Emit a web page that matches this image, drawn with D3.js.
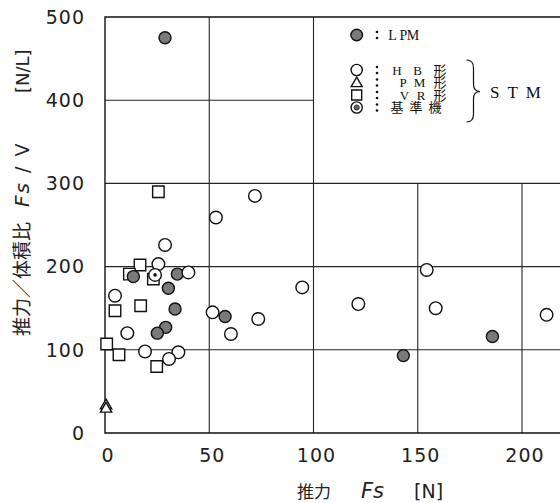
<!DOCTYPE html>
<html>
<head>
<meta charset="utf-8">
<script src="https://cdn.jsdelivr.net/npm/d3@7"></script>
<style>
  body { margin: 0; background: #fff; }
  svg { display: block; }
</style>
</head>
<body>
<svg id="chart" width="560" height="503"></svg>
<script>
(function () {
    'use strict';

    // values
    var lpmX = [28.8, 13.6, 34.7, 30.4, 33.6, 29.1, 25.1, 57.6, 143.1, 185.8];
    var lpmY = [475, 188, 191, 174, 149, 127, 120, 140, 93, 116];

    var hbX = [28.8, 25.6, 4.8, 10.7, 19.2, 35.2, 30.7, 71.9, 53.2, 94.6, 121.5, 51.6, 73.5, 60.4, 154.3, 158.6, 211.8];
    var hbY = [226, 203, 165, 120, 98, 97, 89, 285, 259, 175, 155, 145, 137, 119, 196, 150, 142];
    var hbTopX = [40];
    var hbTopY = [193];

    var pmX = [0.5, 0.5];
    var pmY = [33, 29];

    var vrX = [25.6, 16.8, 11.7, 23.2, 4.8, 17.1, 0.8, 6.7, 24.8];
    var vrY = [290, 202, 191, 185, 147, 153, 107, 94, 80];

    var refX = [24];
    var refY = [190];

    var xTicks = [0, 50, 100, 150, 200];
    var yTicks = [0, 100, 200, 300, 400, 500];

    var legendLabels = ["L P M", "H B 形", "P M 形", "V R 形", "基準機"];

    var svg = d3.select("#chart"),
        width = +svg.attr("width");

    var x = d3.scaleLinear().domain([0, 250]).range([105, 105 + 250 * 2.085]);
    var y = d3.scaleLinear().domain([0, 500]).range([433, 17]);

    var zip = function (xs, ys) {
        return xs.map(function (v, i) { return [v, ys[i]]; });
    };

    // grid (no lines inside the legend area, top right)
    var grid = svg.append("g").attr("stroke", "#262626").attr("stroke-width", 1.1);
    grid.selectAll("line.v")
        .data(xTicks.slice(1))
        .enter()
        .append("line")
        .attr("x1", function (d) { return x(d); })
        .attr("x2", function (d) { return x(d); })
        .attr("y1", y(0))
        .attr("y2", function (d) { return d > 100 ? y(300) : y(500); });
    grid.selectAll("line.h")
        .data(yTicks.slice(1, -1))
        .enter()
        .append("line")
        .attr("x1", x(0))
        .attr("x2", function (d) { return d > 300 ? x(100) : width; })
        .attr("y1", function (d) { return y(d); })
        .attr("y2", function (d) { return y(d); });

    // frame
    svg.append("path")
        .attr("d", "M" + width + "," + y(500) + "H" + x(0) + "V" + y(0) + "H" + width)
        .attr("fill", "none")
        .attr("stroke", "#111")
        .attr("stroke-width", 1.4);

    // tick labels
    var tickFont = "'DejaVu Sans', sans-serif";
    svg.selectAll("text.ytick")
        .data(yTicks)
        .enter()
        .append("text")
        .attr("x", 85)
        .attr("y", function (d) { return y(d); })
        .attr("dy", "0.36em")
        .attr("text-anchor", "end")
        .style("font-family", tickFont)
        .style("font-size", "19px")
        .style("letter-spacing", "1px")
        .attr("fill", "#222")
        .text(function (d) { return d; });

    svg.selectAll("text.xtick")
        .data(xTicks)
        .enter()
        .append("text")
        .attr("x", function (d) { return x(d) + 3; })
        .attr("y", 455)
        .attr("dy", "0.36em")
        .attr("text-anchor", "middle")
        .style("font-family", tickFont)
        .style("font-size", "19px")
        .style("letter-spacing", "1px")
        .attr("fill", "#222")
        .text(function (d) { return d; });

    // axis titles
    var xt = svg.append("text")
        .attr("y", 498)
        .attr("fill", "#222")
        .style("font-family", tickFont)
        .style("font-size", "19px");
    xt.append("tspan").attr("x", 297).style("font-family", "'Noto Sans CJK JP'").style("font-size", "17px").text("推力");
    xt.append("tspan").attr("x", 361).style("font-style", "italic").style("font-size", "21px").text("Fs");
    xt.append("tspan").attr("x", 414).text("[N]");

    var yt = svg.append("g").attr("transform", "translate(29,0) rotate(-90)");
    yt.append("text")
        .attr("x", -336)
        .attr("fill", "#222")
        .style("font-family", "'Noto Sans CJK JP'")
        .style("font-size", "19px")
        .text("推力／体積比");
    var fv = yt.append("text")
        .attr("x", -207)
        .attr("fill", "#222")
        .style("font-family", tickFont)
        .style("font-size", "19px")
        .style("letter-spacing", "2px");
    fv.append("tspan").style("font-style", "italic").style("font-size", "20px").text("Fs");
    fv.append("tspan").text(" / V");
    yt.append("text")
        .attr("x", -93)
        .attr("fill", "#222")
        .style("font-family", tickFont)
        .style("font-size", "18px")
        .text("[N/L]");

    // markers
    var triangle = d3.symbol().type(d3.symbolTriangle).size(55);
    var square = d3.symbol().type(d3.symbolSquare).size(132);

    var marks = svg.append("g").attr("stroke", "#111").attr("stroke-width", 1.4);

    marks.selectAll("path.vr")
        .data(zip(vrX, vrY))
        .enter()
        .append("path")
        .attr("d", square)
        .attr("transform", function (d) { return "translate(" + x(d[0]) + "," + y(d[1]) + ")"; })
        .attr("fill", "#fff");

    marks.selectAll("path.pm")
        .data(zip(pmX, pmY))
        .enter()
        .append("path")
        .attr("d", triangle)
        .attr("transform", function (d) { return "translate(" + x(d[0]) + "," + y(d[1]) + ")"; })
        .attr("fill", "#fff");

    marks.selectAll("circle.hb")
        .data(zip(hbX, hbY))
        .enter()
        .append("circle")
        .attr("cx", function (d) { return x(d[0]); })
        .attr("cy", function (d) { return y(d[1]); })
        .attr("r", 6.3)
        .attr("fill", "#fff");

    marks.selectAll("circle.lpm")
        .data(zip(lpmX, lpmY))
        .enter()
        .append("circle")
        .attr("cx", function (d) { return x(d[0]); })
        .attr("cy", function (d) { return y(d[1]); })
        .attr("r", 6)
        .attr("fill", "#7a7a7a");

    marks.selectAll("circle.hbtop")
        .data(zip(hbTopX, hbTopY))
        .enter()
        .append("circle")
        .attr("cx", function (d) { return x(d[0]); })
        .attr("cy", function (d) { return y(d[1]); })
        .attr("r", 6.3)
        .attr("fill", "#fff");

    var ref = marks.selectAll("g.ref")
        .data(zip(refX, refY))
        .enter()
        .append("g")
        .attr("transform", function (d) { return "translate(" + x(d[0]) + "," + y(d[1]) + ")"; });
    ref.append("circle").attr("r", 6.3).attr("fill", "#fff");
    ref.append("circle").attr("r", 1.8).attr("fill", "#111").attr("stroke", "none");

    // legend
    var lx = 356.7,
        rowY = [35, 70, 82.5, 95, 107.5],
        // centres of the spaced-out glyph groups of each row
        chunkX = [[392.5, 403.5, 413], [397, 417.5, 440], [403, 419.5, 440], [404.5, 421, 440], [419]];
    var lg = svg.append("g");
    function st(sel) { return sel.attr("stroke", "#111").attr("stroke-width", 1.4); }
    st(lg.append("circle").attr("cx", lx).attr("cy", rowY[0]).attr("r", 5.8).attr("fill", "#7a7a7a"));
    st(lg.append("circle").attr("cx", lx).attr("cy", rowY[1]).attr("r", 5.6).attr("fill", "#fff"));
    st(lg.append("path").attr("d", d3.symbol().type(d3.symbolTriangle).size(52))
        .attr("transform", "translate(" + lx + "," + (rowY[2] + 1) + ")").attr("fill", "#fff"));
    st(lg.append("path").attr("d", d3.symbol().type(d3.symbolSquare).size(100))
        .attr("transform", "translate(" + lx + "," + rowY[3] + ")").attr("fill", "#fff"));
    st(lg.append("circle").attr("cx", lx).attr("cy", rowY[4]).attr("r", 5.6).attr("fill", "#fff"));
    lg.append("circle").attr("cx", lx).attr("cy", rowY[4]).attr("r", 2.6)
        .attr("fill", "#666").attr("stroke", "#111").attr("stroke-width", 0.8);

    // colons drawn as dot pairs
    rowY.forEach(function (ry) {
        [-3, 3].forEach(function (o) {
            lg.append("circle").attr("cx", 377).attr("cy", ry + o).attr("r", 1.3).attr("fill", "#111");
        });
    });

    lg.selectAll("text.lab")
        .data(legendLabels)
        .enter()
        .append("text")
        .attr("y", function (d, i) { return rowY[i]; })
        .attr("dy", "0.36em")
        .attr("text-anchor", "middle")
        .style("font-family", "'Liberation Serif', 'Noto Sans CJK JP', serif")
        .style("font-size", function (d, i) { return i === 0 ? "14px" : "13px"; })
        .attr("fill", "#111")
        .each(function (d, i) {
            var t = d3.select(this);
            d.split(" ").forEach(function (p, k) {
                t.append("tspan")
                    .attr("x", chunkX[i][k])
                    .style("letter-spacing", i === 4 ? "6px" : "0px")
                    .style("font-family", /[\u4e00-\u9fff]/.test(p) ? "'Noto Sans CJK JP'" : null)
                    .text(p);
            });
        });

    // brace for STM group
    lg.append("path")
        .attr("d", "M466.5,60 Q473.5,60 473.5,68 V84 Q473.5,91.5 480,91.5 Q473.5,91.5 473.5,99 V114 Q473.5,122 466.5,122")
        .attr("fill", "none")
        .attr("stroke", "#111")
        .attr("stroke-width", 1.2);
    lg.append("text")
        .attr("x", 490)
        .attr("y", 92)
        .attr("dy", "0.36em")
        .style("font-family", "'Liberation Serif', serif")
        .style("font-size", "17px")
        .style("letter-spacing", "2px")
        .attr("fill", "#111")
        .text("S T M");
})();
</script>
</body>
</html>
